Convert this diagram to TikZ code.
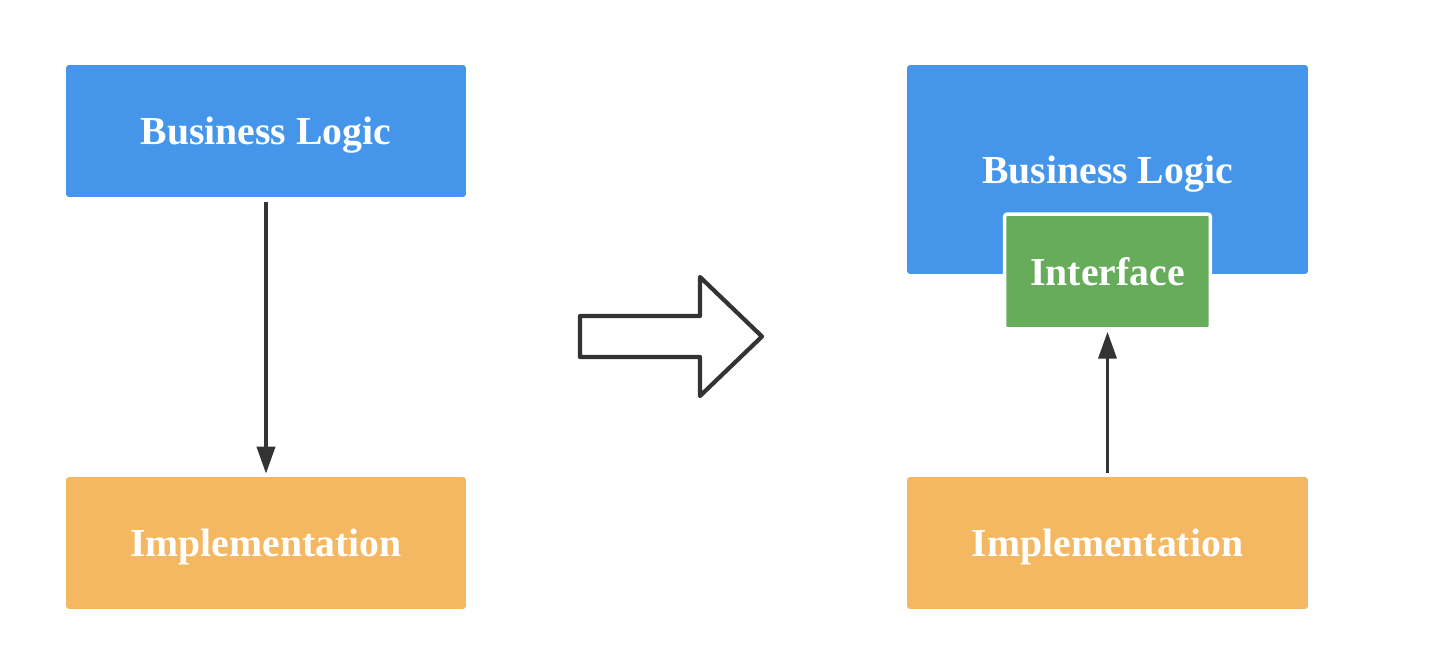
\documentclass[tikz,border=0pt]{standalone}
\usepackage{fontspec}
\setmainfont{Liberation Serif}
\usepackage{tikz}
\usetikzlibrary{arrows.meta}
\usetikzlibrary{calc}

\definecolor{logicblue}{HTML}{4596EA}
\definecolor{implorange}{HTML}{F4B862}
\definecolor{ifacegreen}{HTML}{67AC5B}
\definecolor{linegray}{HTML}{333333}

\begin{document}
\begin{tikzpicture}[x=0.02cm, y=-0.02cm,
  box/.style={rectangle, rounded corners=0.06cm, text=white,
    font=\fontsize{22.6}{27}\selectfont\bfseries, text depth=0pt,
    minimum width=8cm, minimum height=2.64cm, inner sep=0pt},
  link/.style={draw=linegray, line width=2.2pt,
    -{Triangle[length=0.54cm, width=0.36cm]}}]

  \useasboundingbox (0,0) rectangle (1438,660);

  % Nodes
  \node[box, fill=logicblue] (logicA) at (266,131) {Business Logic};
  \node[box, fill=implorange] (implA) at (266,543) {Implementation};

  \node[box, fill=logicblue, minimum width=8.02cm, minimum height=4.18cm]
    (logicB) at (1107.5,169.5) {Business Logic};
  \node[box, fill=ifacegreen, draw=white, line width=2pt,
    minimum width=4.12cm, minimum height=2.3cm] (iface) at (1107.5,271.5) {Interface};
  \node[box, fill=implorange, minimum width=8.02cm] (implB) at (1107.5,543) {Implementation};

  % Edges
  \draw[link, shorten <=0.1cm, shorten >=0.06cm] (logicA) -- (implA);
  \draw[link, shorten <=0.08cm, shorten >=0.02cm] (implB) -- (iface);

  % Big hollow arrow in the middle
  \draw[linegray, line width=2.4pt, line join=round, fill=white]
    (580,316) -- (700,316) -- (700,277) -- (762,336.5) -- (700,396)
    -- (700,357) -- (580,357) -- cycle;

\end{tikzpicture}
\end{document}
